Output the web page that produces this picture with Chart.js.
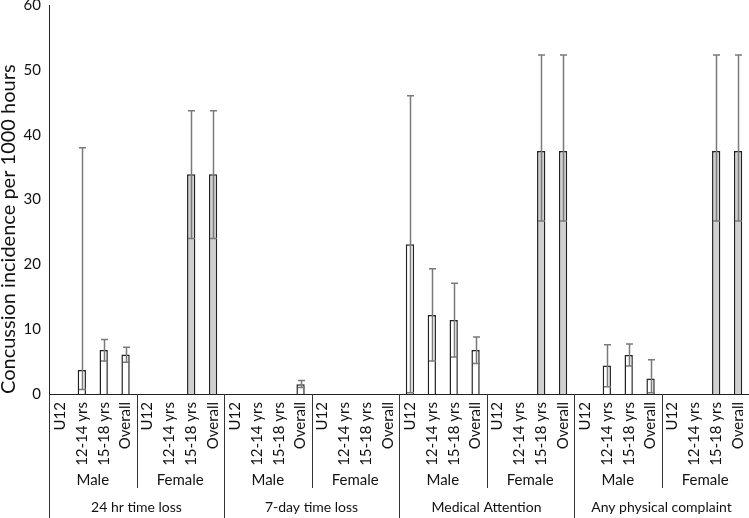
<!DOCTYPE html>
<html>
<head>
<meta charset="utf-8">
<script src="https://cdn.jsdelivr.net/npm/chart.js@4.4.1/dist/chart.umd.min.js"></script>
<style>
    html, body { margin: 0; padding: 0; background: #fff; }
    #wrap { width: 749px; height: 518px; }
</style>
</head>
<body>
<div id="wrap"><canvas id="chart" width="749" height="518"></canvas></div>
<script>
const groups = ['24 hr time loss', '7-day time loss', 'Medical Attention', 'Any physical complaint'];
const sexes = ['Male', 'Female'];
const ages = ['U12', '12-14 yrs', '15-18 yrs', 'Overall'];

// concussion incidence per 1000 h, order: group > sex > age
const incidence = [
    null, 3.7, 6.8, 6.1,    null, null, 33.9, 33.9,
    null, null, null, 1.5,  null, null, null, null,
    23.1, 12.2, 11.4, 6.8,  null, null, 37.5, 37.5,
    null, 4.4, 6.0, 2.4,    null, null, 37.5, 37.5
];
const ciLow = [
    null, 0.7, 5.1, 4.9,    null, null, 24.0, 24.0,
    null, null, null, 1.0,  null, null, null, null,
    0.2, 5.1, 5.7, 4.7,     null, null, 26.7, 26.7,
    null, 1.1, 4.3, 0.2,    null, null, 26.7, 26.7
];
const ciHigh = [
    null, 38.0, 8.4, 7.2,   null, null, 43.7, 43.7,
    null, null, null, 2.1,  null, null, null, null,
    46.0, 19.3, 17.1, 8.8,  null, null, 52.3, 52.3,
    null, 7.6, 7.7, 5.3,    null, null, 52.3, 52.3
];
const yMax = 60;
const yStep = 10;

const FONT = 'Lato, "Open Sans", sans-serif';
const TEXT = '#111111';

// build the three label levels
const ageLabels = [];
const sexLabels = [];
groups.forEach(() => {
    sexes.forEach(s => {
        sexLabels.push(s);
        ages.forEach(a => ageLabels.push(a));
    });
});
const barColors = ageLabels.map((a, i) => (Math.floor(i / ages.length) % 2 === 0 ? '#ffffff' : '#d0d0d0'));

// Error bars drawn over the bars
const errorBars = {
    id: 'errorBars',
    afterDatasetsDraw(chart) {
        const ctx = chart.ctx;
        const y = chart.scales.y;
        const meta = chart.getDatasetMeta(0);
        ctx.save();
        ctx.strokeStyle = '#7a7a7a';
        ctx.lineWidth = 1.5;
        meta.data.forEach((bar, i) => {
            if (ciHigh[i] == null) return;
            const x = Math.round(bar.x) + 0.5;
            const lo = y.getPixelForValue(ciLow[i]);
            const hi = y.getPixelForValue(ciHigh[i]);
            ctx.beginPath();
            ctx.moveTo(x, lo);
            ctx.lineTo(x, hi);
            ctx.moveTo(x - 3.5, hi);
            ctx.lineTo(x + 3.5, hi);
            ctx.moveTo(x - 3.5, lo);
            ctx.lineTo(x + 3.5, lo);
            ctx.stroke();
        });
        ctx.restore();
    }
};

// Divider lines between the label groups
const dividers = {
    id: 'dividers',
    afterDraw(chart) {
        const ctx = chart.ctx;
        const area = chart.chartArea;
        const x = chart.scales.x;
        const x2 = chart.scales.x2;
        ctx.save();
        ctx.strokeStyle = '#333333';
        ctx.lineWidth = 1;
        ctx.beginPath();
        ctx.moveTo(area.left + 0.5, area.bottom);
        ctx.lineTo(area.left + 0.5, chart.height);
        for (let k = 1; k < sexLabels.length; k++) {
            const i = k * ages.length;
            const xp = Math.round((x.getPixelForValue(i - 1) + x.getPixelForValue(i)) / 2) + 0.5;
            const bottom = k % 2 === 0 ? chart.height : x2.bottom - 6;
            ctx.moveTo(xp, area.bottom);
            ctx.lineTo(xp, bottom);
        }
        ctx.stroke();
        ctx.restore();
    }
};

// fixed axis heights, no extra side padding
function fitX(h) {
    return function (scale) {
        scale.height = h;
        scale.paddingLeft = 0;
        scale.paddingRight = 0;
    };
}

new Chart(document.getElementById('chart'), {
    type: 'bar',
    data: {
        labels: ageLabels,
        datasets: [{
            data: incidence,
            backgroundColor: barColors,
            borderColor: '#222222',
            borderWidth: 1.5,
            barPercentage: 0.38,
            categoryPercentage: 1
        }]
    },
    options: {
        responsive: false,
        devicePixelRatio: 1,
        animation: false,
        layout: { padding: { top: 5, right: 0, left: 0, bottom: 0 } },
        plugins: {
            legend: { display: false },
            tooltip: { enabled: false }
        },
        scales: {
            y: {
                min: 0,
                max: yMax,
                ticks: { stepSize: yStep, font: { family: FONT, size: 15 }, color: TEXT, padding: 8 },
                grid: { display: false, drawTicks: false },
                border: { display: true, color: '#222222', width: 1 },
                title: {
                    display: true,
                    align: 'start',
                    text: 'Concussion incidence per 1000 hours',
                    font: { family: FONT, size: 20 },
                    color: TEXT,
                    padding: { top: -3, bottom: 0 }
                },
                afterFit(scale) {
                    scale.width = 49;
                    scale.paddingTop = 0;
                    scale.paddingBottom = 0;
                }
            },
            x: {
                weight: 0,
                offset: true,
                ticks: {
                    autoSkip: false,
                    minRotation: 90,
                    maxRotation: 90,
                    font: { family: FONT, size: 15 },
                    color: TEXT,
                    padding: 8
                },
                grid: { display: false, drawTicks: false },
                border: { display: true, color: '#222222', width: 1 },
                afterFit: fitX(76)
            },
            x2: {
                type: 'category',
                position: 'bottom',
                weight: 1,
                offset: true,
                labels: sexLabels,
                ticks: { autoSkip: false, maxRotation: 0, font: { family: FONT, size: 15 }, color: TEXT, padding: 1 },
                grid: { display: false, drawTicks: false },
                border: { display: false },
                afterFit: fitX(24)
            },
            x3: {
                type: 'category',
                position: 'bottom',
                weight: 2,
                offset: true,
                labels: groups,
                ticks: { autoSkip: false, maxRotation: 0, font: { family: FONT, size: 14 }, color: TEXT, padding: 5 },
                grid: { display: false, drawTicks: false },
                border: { display: false },
                afterFit: fitX(24)
            }
        }
    },
    plugins: [errorBars, dividers]
});
</script>
</body>
</html>
